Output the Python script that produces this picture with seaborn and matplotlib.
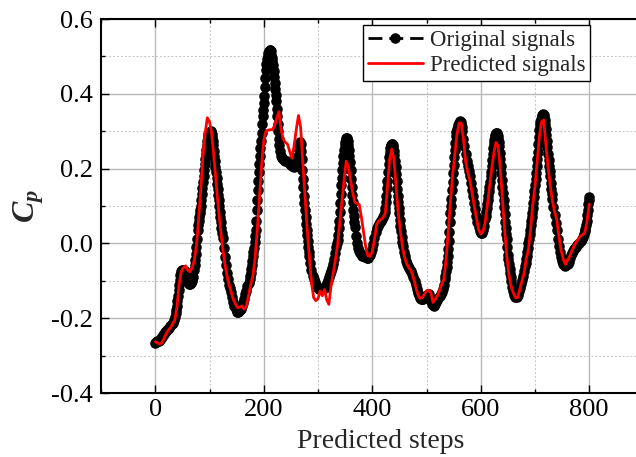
import numpy as np
import pandas as pd
import matplotlib
matplotlib.use("Agg")
import matplotlib.pyplot as plt
import seaborn as sns
from matplotlib.ticker import MultipleLocator, FormatStrFormatter

# ---- data ----
# original signal, every 2 steps
orig_step = np.arange(0, 801, 2)
orig_cp = [
    -0.265, -0.264, -0.262, -0.260, -0.257, -0.253, -0.249, -0.245, -0.241, -0.238,
    -0.235, -0.232, -0.228, -0.225, -0.221, -0.216, -0.212, -0.206, -0.197, -0.185,
    -0.168, -0.140, -0.110, -0.085, -0.074, -0.070, -0.071, -0.075, -0.084, -0.095,
    -0.103, -0.108, -0.109, -0.107, -0.101, -0.090, -0.070, -0.045, -0.010, 0.037,
    0.060, 0.080, 0.100, 0.133, 0.165, 0.197, 0.225, 0.250, 0.275, 0.292,
    0.298, 0.300, 0.292, 0.275, 0.248, 0.219, 0.190, 0.160, 0.130, 0.100,
    0.070, 0.042, 0.015, -0.012, -0.036, -0.058, -0.078, -0.095, -0.110, -0.120,
    -0.130, -0.144, -0.156, -0.167, -0.176, -0.183, -0.183, -0.182, -0.179, -0.176,
    -0.168, -0.160, -0.148, -0.136, -0.126, -0.115, -0.106, -0.096, -0.080, -0.058,
    -0.034, -0.012, 0.020, 0.060, 0.117, 0.167, 0.212, 0.255, 0.296, 0.340,
    0.376, 0.417, 0.464, 0.492, 0.508, 0.515, 0.518, 0.505, 0.487, 0.462,
    0.430, 0.397, 0.360, 0.320, 0.280, 0.248, 0.235, 0.229, 0.225, 0.223,
    0.221, 0.219, 0.217, 0.215, 0.212, 0.210, 0.208, 0.206, 0.205, 0.207,
    0.214, 0.230, 0.255, 0.268, 0.265, 0.225, 0.172, 0.128, 0.088, 0.052,
    0.022, -0.010, -0.034, -0.052, -0.070, -0.087, -0.096, -0.104, -0.111, -0.117,
    -0.120, -0.122, -0.123, -0.122, -0.121, -0.120, -0.118, -0.112, -0.105, -0.098,
    -0.091, -0.083, -0.074, -0.065, -0.054, -0.043, -0.027, -0.010, 0.010, 0.040,
    0.085, 0.132, 0.176, 0.216, 0.250, 0.270, 0.281, 0.280, 0.263, 0.235,
    0.195, 0.150, 0.110, 0.072, 0.043, 0.020, 0.002, -0.011, -0.019, -0.025,
    -0.029, -0.033, -0.035, -0.036, -0.037, -0.038, -0.038, -0.035, -0.032, -0.024,
    -0.014, -0.002, 0.015, 0.030, 0.040, 0.047, 0.052, 0.056, 0.060, 0.065,
    0.070, 0.077, 0.095, 0.127, 0.167, 0.212, 0.245, 0.260, 0.265, 0.263,
    0.248, 0.221, 0.186, 0.146, 0.110, 0.080, 0.046, 0.018, -0.008, -0.022,
    -0.035, -0.047, -0.055, -0.061, -0.065, -0.070, -0.074, -0.083, -0.091, -0.100,
    -0.111, -0.121, -0.132, -0.139, -0.145, -0.149, -0.149, -0.148, -0.146, -0.142,
    -0.138, -0.134, -0.136, -0.145, -0.154, -0.161, -0.165, -0.167, -0.163, -0.158,
    -0.152, -0.146, -0.141, -0.135, -0.130, -0.122, -0.110, -0.095, -0.075, -0.050,
    -0.016, 0.030, 0.082, 0.120, 0.165, 0.210, 0.250, 0.286, 0.305, 0.317,
    0.322, 0.326, 0.320, 0.300, 0.280, 0.260, 0.238, 0.220, 0.207, 0.193,
    0.180, 0.162, 0.144, 0.126, 0.108, 0.091, 0.073, 0.057, 0.043, 0.033,
    0.029, 0.028, 0.035, 0.047, 0.064, 0.085, 0.105, 0.126, 0.152, 0.179,
    0.206, 0.240, 0.268, 0.284, 0.293, 0.294, 0.280, 0.260, 0.225, 0.188,
    0.150, 0.117, 0.078, 0.040, 0.011, -0.030, -0.056, -0.080, -0.100, -0.116,
    -0.128, -0.138, -0.144, -0.144, -0.138, -0.128, -0.118, -0.108, -0.098, -0.088,
    -0.075, -0.060, -0.043, -0.023, 0.000, 0.025, 0.048, 0.070, 0.095, 0.124,
    0.155, 0.189, 0.226, 0.265, 0.304, 0.325, 0.340, 0.345, 0.342, 0.330,
    0.305, 0.275, 0.240, 0.207, 0.180, 0.145, 0.120, 0.097, 0.075, 0.055,
    0.035, 0.013, -0.006, -0.022, -0.036, -0.047, -0.055, -0.059, -0.060, -0.058,
    -0.054, -0.049, -0.040, -0.032, -0.025, -0.020, -0.015, -0.012, -0.009, -0.005,
    -0.001, 0.002, 0.006, 0.011, 0.018, 0.025, 0.032, 0.048, 0.075, 0.105,
    0.124,
]

# original signal, extra odd steps read on the steep parts
orig_step_extra = [
    39, 41, 43, 45,
    73, 75, 77, 79, 81, 83, 85, 87, 89, 91, 93, 95, 97, 99, 101, 103, 105, 107,
    109, 111, 113, 115, 117, 119, 121, 123,
    175, 177, 179, 181, 183, 185, 187, 189, 191, 193, 195, 197, 199, 201, 203,
    205, 207, 209, 211, 213, 215, 217, 219, 221, 223, 225, 227, 229,
    265, 267, 269, 271, 273, 275, 277, 279, 281, 283,
    335, 337, 339, 341, 343, 345, 347, 349, 351, 353, 355, 357, 359, 361, 363,
    365, 367,
    423, 425, 427, 429, 431, 433, 435, 437, 439, 441, 443, 445, 447, 449, 451,
    453, 455,
    535, 537, 539, 541, 543, 545, 547, 549, 551, 553, 555, 563, 565,
    609, 611, 613, 615, 617, 619, 621, 623, 625, 627, 629, 631, 633, 635, 637,
    639, 641, 643, 645, 647, 649, 651, 653, 655,
    683, 685, 687, 689, 691, 693, 695, 697, 699, 701, 703, 705, 707, 709, 711,
    713, 715, 717, 719, 721, 723, 725, 727, 729, 731,
    793, 795, 797, 799,
]
orig_cp_extra = [
    -0.177, -0.155, -0.125, -0.097,
    -0.058, -0.028, 0.013, 0.050, 0.070, 0.090, 0.116, 0.149, 0.181, 0.211,
    0.238, 0.263, 0.284, 0.296, 0.299, 0.297, 0.284, 0.262,
    0.233, 0.205, 0.175, 0.145, 0.115, 0.085, 0.056, 0.028,
    -0.088, -0.069, -0.046, -0.023, 0.003, 0.037, 0.090, 0.144, 0.190, 0.233,
    0.275, 0.318, 0.358, 0.393, 0.441,
    0.480, 0.500, 0.512, 0.517, 0.514, 0.496, 0.476, 0.446, 0.413, 0.380,
    0.340, 0.300, 0.262,
    0.264, 0.270, 0.248, 0.197, 0.150, 0.108, 0.070, 0.037, 0.006, -0.022,
    0.000, 0.022, 0.060, 0.108, 0.155, 0.197, 0.235, 0.262, 0.277, 0.282,
    0.274, 0.250, 0.217, 0.172, 0.130,
    0.090, 0.057,
    0.085, 0.110, 0.147, 0.190, 0.230, 0.254, 0.263, 0.265, 0.257, 0.236,
    0.204, 0.166, 0.128, 0.095, 0.063,
    0.032, 0.005,
    -0.086, -0.063, -0.034, 0.007, 0.056, 0.101, 0.143, 0.188, 0.230, 0.268,
    0.297, 0.324, 0.310,
    0.074, 0.095, 0.115, 0.139, 0.165, 0.192, 0.223, 0.255, 0.277, 0.289,
    0.295, 0.288, 0.271, 0.243, 0.207,
    0.169, 0.134, 0.098, 0.058, 0.026, -0.010, -0.043, -0.068, -0.090,
    -0.052, -0.033, -0.011, 0.012, 0.037, 0.059, 0.082, 0.109, 0.139, 0.172,
    0.207, 0.245, 0.285, 0.316, 0.333,
    0.343, 0.344, 0.337, 0.318, 0.290, 0.258, 0.223, 0.193, 0.162, 0.132,
    0.039, 0.060, 0.090, 0.115,
]

# predicted signal, every 4 steps
pred_step = np.arange(0, 801, 4)
pred_cp = [
    -0.263, -0.266, -0.269, -0.266, -0.255, -0.242, -0.232, -0.225, -0.216, -0.205,
    -0.170, -0.110, -0.075, -0.065, -0.060, -0.072, -0.076, -0.065, -0.045, -0.005,
    0.065, 0.145, 0.235, 0.295, 0.336, 0.325, 0.295, 0.232, 0.165, 0.100,
    0.042, -0.008, -0.052, -0.085, -0.110, -0.130, -0.150, -0.163, -0.172, -0.170,
    -0.167, -0.176, -0.168, -0.140, -0.110, -0.087, -0.040, 0.035, 0.120, 0.210,
    0.275, 0.300, 0.303, 0.304, 0.304, 0.315, 0.335, 0.352, 0.304, 0.278,
    0.270, 0.265, 0.245, 0.228, 0.262, 0.305, 0.342, 0.310, 0.215, 0.126,
    0.040, -0.035, -0.105, -0.145, -0.153, -0.148, -0.127, -0.140, -0.123, -0.150,
    -0.163, -0.114, -0.080, -0.045, -0.005, 0.055, 0.110, 0.170, 0.220, 0.205,
    0.170, 0.135, 0.110, 0.107, 0.104, 0.070, 0.030, -0.010, -0.033, -0.035,
    -0.022, 0.010, 0.050, 0.060, 0.064, 0.070, 0.080, 0.150, 0.225, 0.252,
    0.225, 0.150, 0.080, 0.030, -0.012, -0.040, -0.056, -0.066, -0.074, -0.092,
    -0.115, -0.136, -0.147, -0.145, -0.136, -0.127, -0.125, -0.132, -0.158, -0.150,
    -0.140, -0.126, -0.110, -0.096, -0.045, 0.030, 0.110, 0.180, 0.235, 0.290,
    0.322, 0.322, 0.280, 0.220, 0.190, 0.168, 0.135, 0.100, 0.068, 0.037,
    0.025, 0.030, 0.055, 0.100, 0.150, 0.197, 0.240, 0.270, 0.260, 0.200,
    0.117, 0.037, -0.034, -0.085, -0.115, -0.132, -0.145, -0.145, -0.123, -0.100,
    -0.078, -0.040, -0.016, 0.040, 0.105, 0.153, 0.220, 0.285, 0.325, 0.330,
    0.265, 0.205, 0.155, 0.115, 0.085, 0.064, 0.020, -0.018, -0.042, -0.056,
    -0.045, -0.034, -0.020, -0.007, 0.004, 0.012, 0.020, 0.023, 0.030, 0.060,
    0.105,
]

labels = ["Original signals", "Predicted signals"]
x_label = "Predicted steps"
y_label = r"$C_p$"

# ---- style ----
sns.set_theme(style="ticks")
plt.rcParams["font.family"] = ["Liberation Serif", "DejaVu Serif"]
plt.rcParams["mathtext.fontset"] = "custom"
plt.rcParams["mathtext.it"] = "Liberation Serif:italic:bold"
plt.rcParams["mathtext.rm"] = "Liberation Serif:bold"
plt.rcParams["axes.unicode_minus"] = False

fig = plt.figure(figsize=(6.36, 4.57), dpi=100)
ax = fig.add_axes([101 / 636, 64 / 457, 542.5 / 636, 374 / 457])

df_o = pd.DataFrame({"step": np.concatenate([orig_step, orig_step_extra]),
                     "cp": np.concatenate([orig_cp, orig_cp_extra])})
df_o = df_o.sort_values("step").reset_index(drop=True)
df_p = pd.DataFrame({"step": pred_step, "cp": pred_cp})

sns.lineplot(data=df_o, x="step", y="cp", ax=ax, color="black",
             linestyle=(0, (5, 2.5)), linewidth=2.0, marker="o",
             markersize=7.6, markeredgewidth=0, label=labels[0], zorder=3)
sns.lineplot(data=df_p, x="step", y="cp", ax=ax, color="#ff0000",
             linewidth=2.0, label=labels[1], zorder=4)

ax.set_xlim(-100, 900)
ax.set_ylim(-0.4, 0.6)
ax.xaxis.set_major_locator(MultipleLocator(200))
ax.xaxis.set_minor_locator(MultipleLocator(100))
ax.yaxis.set_major_locator(MultipleLocator(0.2))
ax.yaxis.set_minor_locator(MultipleLocator(0.1))
ax.yaxis.set_major_formatter(FormatStrFormatter("%.1f"))

ax.grid(which="major", color="#b9b9b9", linewidth=1.0, linestyle="-")
ax.grid(which="minor", color="#c4c4c4", linewidth=0.7, linestyle=(0, (2, 2)))
ax.set_axisbelow(True)

ax.tick_params(which="both", direction="in", top=True, right=True,
               colors="black", width=1.0)
ax.tick_params(which="major", length=6, labelsize=19)
ax.tick_params(which="minor", length=3)
ax.tick_params(axis="x", which="major", pad=4)
ax.tick_params(axis="y", which="major", pad=6)

for s in ax.spines.values():
    s.set_color("black")
    s.set_linewidth(1.5)

ax.set_xlabel(x_label, fontsize=20)
ax.set_ylabel(y_label, fontsize=23)
ax.xaxis.set_label_coords((381 - 101) / 542.5, -0.097)
ax.yaxis.set_label_coords((46 - 101) / 542.5, 0.5)

leg = ax.legend(loc="upper right", bbox_to_anchor=((590 - 101) / 542.5, 1 - 6 / 374),
                borderaxespad=0, fontsize=16.5, frameon=True, fancybox=False,
                framealpha=1, edgecolor="black", borderpad=0.2,
                labelspacing=0.2, handlelength=2.4, handletextpad=0.3,
                numpoints=1)
leg.get_frame().set_linewidth(1.0)

fig.savefig("out.png", dpi=100)
